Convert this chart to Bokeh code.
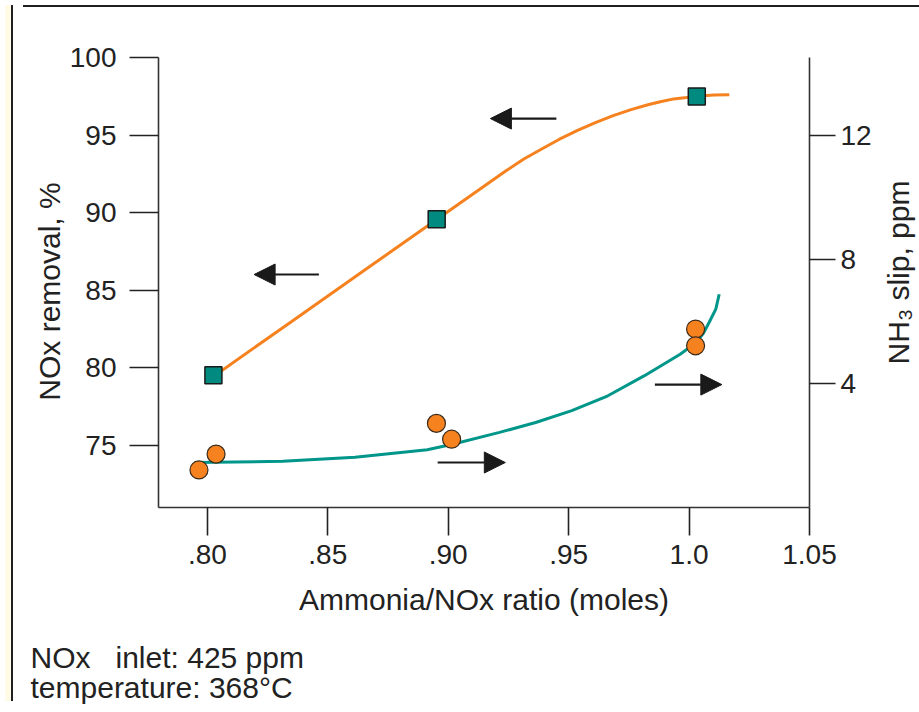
from bokeh.plotting import figure
from bokeh.models import Range1d, LinearAxis, FixedTicker, Arrow, NormalHead, Title, Div
from bokeh.layouts import row, column
from bokeh.embed import file_html
from bokeh.resources import INLINE

# ---------------- data ----------------
# NOx removal curve (left axis, %)
removal_curve_x = [0.8031, 0.8350, 0.8646, 0.8955, 0.9091, 0.9240, 0.9314, 0.9388,
                   0.9462, 0.9537, 0.9611, 0.9685, 0.9759, 0.9833, 0.9885, 0.9937,
                   0.9989, 1.0041, 1.0104, 1.0167]
removal_curve_y = [79.49, 82.97, 86.21, 89.58, 91.07, 92.69, 93.45, 94.10,
                   94.73, 95.30, 95.80, 96.25, 96.64, 96.97, 97.16, 97.33,
                   97.42, 97.52, 97.58, 97.60]
# NOx removal measured points (squares)
removal_pts_x = [0.8025, 0.8952, 1.0032]
removal_pts_y = [79.50, 89.56, 97.49]

# NH3 slip curve (right axis, ppm)
slip_curve_x = [0.7946, 0.8313, 0.8613, 0.8913, 0.9018, 0.9213, 0.9363, 0.9513,
                0.9663, 0.9813, 0.9963, 1.0030, 1.0060, 1.0083, 1.0111, 1.0125]
slip_curve_y = [1.45, 1.49, 1.62, 1.86, 2.04, 2.42, 2.74, 3.12,
                3.60, 4.24, 4.94, 5.32, 5.62, 5.96, 6.39, 6.87]
# NH3 slip measured points (circles)
slip_pts_x = [0.7965, 0.8036, 0.8951, 0.9014, 1.0027, 1.0027]
slip_pts_y = [1.21, 1.72, 2.71, 2.20, 5.75, 5.21]

# ticks
x_ticks = [0.80, 0.85, 0.90, 0.95, 1.00, 1.05]
x_tick_labels = [".80", ".85", ".90", ".95", "1.0", "1.05"]
left_ticks = [75, 80, 85, 90, 95, 100]
right_ticks = [4, 8, 12]

note_lines = ["NOx\u00a0\u00a0 inlet: 425 ppm", "temperature: 368\u00b0C"]

FONT = "Liberation Sans"
INK = "#222222"
ORANGE = "#f5821f"
TEAL = "#00968a"
TEAL_SQ = "#008a80"

MAIN_H = 614
MAIN_TOP = 45
MAIN_BOTTOM = MAIN_H - 495


def no_frame_align(f):
    if hasattr(f, "frame_align"):
        f.frame_align = False


p = figure(width=812, height=MAIN_H, output_backend="svg", toolbar_location=None,
           x_range=Range1d(0.7797, 1.05), y_range=Range1d(70.97, 100),
           min_border_left=90, min_border_right=69,
           min_border_top=MAIN_TOP, min_border_bottom=MAIN_BOTTOM)
no_frame_align(p)
p.extra_y_ranges = {"slip": Range1d(0, 14.5)}
p.xgrid.visible = False
p.ygrid.visible = False
p.outline_line_color = None
p.background_fill_color = "white"
p.border_fill_color = "white"

right_axis = LinearAxis(y_range_name="slip")
p.add_layout(right_axis, "right")

def style_axis(ax, tick_out, standoff, label_standoff):
    ax.axis_line_color = "#333333"
    ax.axis_line_width = 1.6
    ax.major_tick_line_color = INK
    ax.major_tick_line_width = 1.6
    ax.major_tick_in = 0
    ax.major_tick_out = tick_out
    ax.minor_tick_line_color = None
    ax.major_label_text_font = FONT
    ax.major_label_text_font_size = "28px"
    ax.major_label_text_color = INK
    ax.major_label_standoff = standoff
    ax.axis_label_text_font = FONT
    ax.axis_label_text_font_size = "30px"
    ax.axis_label_text_font_style = "normal"
    ax.axis_label_text_color = INK
    ax.axis_label_standoff = label_standoff

xax = p.xaxis[0]
style_axis(xax, 28, 9, 16)
xax.ticker = FixedTicker(ticks=x_ticks)
xax.major_label_overrides = {t: l for t, l in zip(x_ticks, x_tick_labels)}
xax.axis_label = "Ammonia/NOx ratio (moles)"

lax = p.yaxis[0]
style_axis(lax, 29, 13, 0)
lax.ticker = FixedTicker(ticks=left_ticks)

style_axis(right_axis, 26, 5, 0)
right_axis.ticker = FixedTicker(ticks=right_ticks)

# curves
p.line(removal_curve_x, removal_curve_y, line_color=ORANGE, line_width=3)
p.line(slip_curve_x, slip_curve_y, line_color=TEAL, line_width=3, y_range_name="slip")

# points
p.scatter(slip_pts_x, slip_pts_y, marker="circle", size=18, fill_color=ORANGE,
          line_color="#3a2a1a", line_width=1.2, y_range_name="slip")
p.scatter(removal_pts_x, removal_pts_y, marker="square", size=17, fill_color=TEAL_SQ,
          line_color="#1a1a1a", line_width=1.5)

# direction arrows
def add_arrow(x0, x1, y, rng=None):
    kw = {"y_range_name": rng} if rng else {}
    p.add_layout(Arrow(end=NormalHead(size=21, fill_color="#1a1a1a", line_color="#1a1a1a"),
                       x_start=x0, y_start=y, x_end=x1, y_end=y,
                       line_color="#1a1a1a", line_width=2.2, **kw))

add_arrow(0.8463, 0.8194, 86.0)
add_arrow(0.9449, 0.9175, 96.06)
add_arrow(0.8956, 0.9237, 1.45, "slip")
add_arrow(0.9858, 1.0136, 3.96, "slip")


def title_strip(width, label, border_left, top, bottom):
    """Narrow figure whose only content is a vertical axis title (reads bottom-to-top)."""
    f = figure(width=width, height=MAIN_H, output_backend="svg", toolbar_location=None,
               x_range=Range1d(0, 1), y_range=Range1d(0, 1), x_axis_location=None,
               min_border_left=border_left, min_border_right=0,
               min_border_top=top, min_border_bottom=bottom)
    no_frame_align(f)
    f.xgrid.visible = False
    f.ygrid.visible = False
    f.outline_line_color = None
    f.background_fill_color = "white"
    f.border_fill_color = "white"
    a = f.yaxis[0]
    a.ticker = FixedTicker(ticks=[])
    a.axis_line_color = None
    a.major_tick_line_color = None
    a.minor_tick_line_color = None
    a.major_tick_in = 0
    a.major_tick_out = 0
    a.major_label_standoff = 0
    a.axis_label_standoff = 0
    a.axis_label = label
    a.axis_label_text_font = FONT
    a.axis_label_text_font_size = "30px"
    a.axis_label_text_font_style = "normal"
    a.axis_label_text_color = INK
    return f

left_title = title_strip(48, "NOx removal, %", 47, 45, 101)
right_title = title_strip(40, "NH\u2083 slip, ppm", 34, 25, MAIN_BOTTOM)

# notes below the chart
note_fig = figure(width=900, height=80, output_backend="svg", toolbar_location=None,
                  x_range=Range1d(0, 1), y_range=Range1d(0, 1),
                  x_axis_location=None, y_axis_location=None,
                  min_border_left=0, min_border_right=0,
                  min_border_top=13, min_border_bottom=65)
no_frame_align(note_fig)
note_fig.xgrid.visible = False
note_fig.ygrid.visible = False
note_fig.outline_line_color = None
note_fig.background_fill_color = "white"
note_fig.border_fill_color = "white"
note = Title(text="\n".join(note_lines), align="left", offset=12, standoff=0,
             vertical_align="top",
             text_font=FONT, text_font_size="30px", text_font_style="normal",
             text_color=INK, text_line_height=0.93)
note_fig.add_layout(note, "below")

left_strip = Div(text="", width=8, height=696,
                 styles={"background": "linear-gradient(to right, #fffbe6 6px, #202020 6px)"})
top_line = Div(text="", width=900, height=2, styles={"background": "#202020"})
right_line = Div(text="", width=2, height=696, styles={"background": "#202020"})

layout = row(left_strip,
             column(top_line, row(left_title, p, right_title), note_fig),
             right_line)

open("out.html", "w").write(file_html(layout, INLINE))
